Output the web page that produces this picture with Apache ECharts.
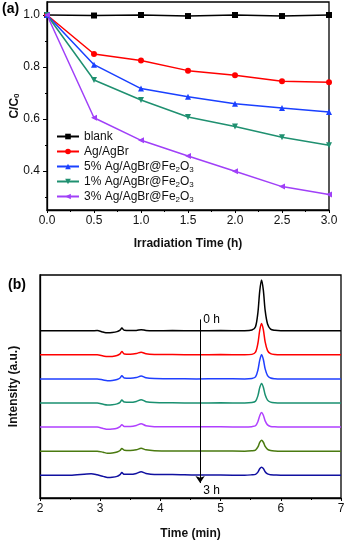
<!DOCTYPE html>
<html>
<head>
    <meta charset="utf-8">
    <title>degradation</title>
    <script src="https://cdn.jsdelivr.net/npm/echarts@6.0.0/dist/echarts.min.js"></script>
    <style>
        html, body { margin: 0; padding: 0; background: #fff; }
        #main { width: 346px; height: 542px; }
    </style>
</head>
<body>
    <div id="main"></div>
    <script>
        // (a) C/C0 vs irradiation time
        var timeA = [0, 0.5, 1.0, 1.5, 2.0, 2.5, 3.0];
        var blank = [1.0, 0.998, 1.0, 0.996, 1.0, 0.996, 1.0];
        var agAgBr = [1.0, 0.85, 0.825, 0.786, 0.768, 0.745, 0.741];
        var ag5 = [1.0, 0.809, 0.717, 0.686, 0.659, 0.642, 0.627];
        var ag1 = [1.0, 0.75, 0.673, 0.608, 0.571, 0.530, 0.499];
        var ag3 = [1.0, 0.605, 0.518, 0.458, 0.399, 0.34, 0.31];
        var namesA = ['blank', 'Ag/AgBr', '5% Ag/AgBr@Fe2O3', '1% Ag/AgBr@Fe2O3', '3% Ag/AgBr@Fe2O3'];
        var yTicksA = [0.4, 0.6, 0.8, 1.0];
        var yMinorA = [0.3, 0.5, 0.7, 0.9];

        // (b) chromatograms, 0 h (top) to 3 h (bottom)
        var timeB = [2.0, 2.5, 2.85, 2.95, 3.05, 3.12, 3.2, 3.28, 3.33, 3.36, 3.40, 3.5, 3.6, 3.68, 3.76, 3.9,
                     4.2, 4.6, 5.0, 5.4, 5.52, 5.58, 5.62, 5.65, 5.68, 5.71, 5.74, 5.78, 5.83, 5.9, 6.0, 6.5, 7.0];
        var tr0 = [0, 0, 0, 0.1, -0.6, -0.9, -0.8, -0.4, 0.3, 1.2, 0.2, 0.1, 0.1, 0.5, 0.1, 0, 0.1, 0, 0.1, 0, 0.3, 1.8, 8.2, 17.8, 22.8, 18.2, 9.1, 3.0, 0.7, 0.2, 0, 0, 0];
        var tr1 = [0, 0, 0, 0, -0.5, -0.8, -0.7, -0.3, 0.4, 1.5, 0.4, 0.3, 0.6, 1.2, 0.5, 0.2, 0.1, 0, 0.1, 0, 0.2, 1.2, 5.2, 11.0, 14.1, 11.3, 5.8, 1.9, 0.5, 0.1, 0, 0, 0];
        var tr2 = [0, 0, 0, 0, -0.5, -0.8, -0.7, -0.3, 0.4, 1.4, 0.4, 0.3, 0.6, 1.3, 0.5, 0.2, 0.1, 0, 0.1, 0, 0.2, 0.9, 4.0, 8.4, 10.8, 8.7, 4.5, 1.5, 0.4, 0.1, 0, 0, 0];
        var tr3 = [0, 0, 0, 0, -0.6, -0.9, -0.8, -0.4, 0.3, 1.3, 0.4, 0.3, 0.7, 1.5, 0.6, 0.2, 0.1, 0, 0.1, 0, 0.2, 0.8, 3.3, 6.9, 8.8, 7.1, 3.7, 1.3, 0.4, 0.1, 0, 0, 0];
        var tr4 = [0, 0, 0, 0, -0.6, -1.0, -0.9, -0.5, 0.2, 1.1, 0.3, 0.3, 0.7, 1.5, 0.6, 0.2, 0.1, 0.1, 0.1, 0, 0.2, 0.6, 2.5, 5.1, 6.5, 5.3, 2.8, 1.0, 0.3, 0.1, 0, 0, 0];
        var tr5 = [0, 0, 0, 0, -0.5, -0.9, -0.8, -0.4, 0.3, 1.2, 0.4, 0.3, 0.6, 1.3, 0.6, 0.2, 0.1, 0.1, 0.1, 0, 0.2, 0.5, 1.9, 3.9, 4.9, 4.0, 2.1, 0.8, 0.3, 0.1, 0, 0, 0];
        var tr6 = [0, 0, 0.7, 0.2, -0.5, -1.0, -0.9, -0.5, 0.3, 1.2, 0.4, 0.4, 0.8, 1.6, 0.8, 0.3, 0.3, 0.1, 0.1, 0, 0.2, 0.4, 1.4, 2.9, 3.6, 3.0, 1.6, 0.6, 0.2, 0.1, 0, 0, 0];
        var traces = [tr0, tr1, tr2, tr3, tr4, tr5, tr6];
        var offsets = [75, 64.2, 53.4, 42.6, 31.8, 21, 10.2];
        var arrowTime = 4.66;
        var arrowFrom = 80.1;
        var arrowTo = 6.7;

        var font = "'Liberation Sans', Arial, sans-serif";
        var colorsA = ['#000000', '#ff0000', '#1a40ff', '#1f9070', '#a040f8'];
        var symbolsA = ['rect', 'circle', 'triangle', 'triangle', 'triangle'];
        var rotateA = [0, 0, 0, 180, 90];
        var colorsB = ['#000000', '#ff0000', '#1f3fff', '#1a9070', '#b040ff', '#4a7a10', '#1010a0'];
        var dataA = [blank, agAgBr, ag5, ag1, ag3];

        function pairs(xs, ys, off) {
            return xs.map(function (x, i) { return [x, ys[i] + (off || 0)]; });
        }
        function fmtName(n) {
            return n.replace('Fe2O3', 'Fe{s|2}O{s|3}');
        }

        var series = [];
        dataA.forEach(function (d, i) {
            series.push({
                name: namesA[i],
                type: 'line',
                xAxisIndex: 0,
                yAxisIndex: 0,
                data: pairs(timeA, d),
                symbol: symbolsA[i],
                symbolRotate: rotateA[i],
                symbolSize: 6,
                lineStyle: { width: 1.5, color: colorsA[i] },
                itemStyle: { color: colorsA[i] }
            });
        });
        traces.forEach(function (d, i) {
            var s = {
                name: 'trace' + i,
                type: 'line',
                xAxisIndex: 1,
                yAxisIndex: 2,
                data: pairs(timeB, d, offsets[i]),
                showSymbol: false,
                smooth: 0.3,
                lineStyle: { width: 1.5, color: colorsB[i] },
                itemStyle: { color: colorsB[i] }
            };
            if (i === 0) {
                s.markLine = {
                    silent: true,
                    symbol: ['none', 'arrow'],
                    symbolSize: 7,
                    label: { show: false },
                    lineStyle: { color: '#000', width: 1, type: 'solid' },
                    data: [[{ coord: [arrowTime, arrowFrom] }, { coord: [arrowTime, arrowTo] }]]
                };
                s.markPoint = {
                    silent: true,
                    symbol: 'circle',
                    symbolSize: 0,
                    itemStyle: { color: 'transparent' },
                    label: { show: true, position: 'right', distance: 3, color: '#000', fontSize: 12, fontFamily: font },
                    data: [
                        { coord: [arrowTime, arrowFrom], label: { formatter: '0 h' } },
                        { coord: [arrowTime, arrowTo - 3.5], label: { formatter: '3 h' } }
                    ]
                };
            }
            series.push(s);
        });

        var axisLine = { show: true, onZero: false, lineStyle: { color: '#000', width: 1.3 } };
        var labelStyle = { color: '#111', fontSize: 12, fontFamily: font };
        var tickStyle = { color: '#000', width: 1 };

        var option = {
            animation: false,
            backgroundColor: '#fff',
            textStyle: { fontFamily: font },
            title: [
                { text: '(a)', left: 2, top: 2, padding: 0, textStyle: { fontSize: 14, fontWeight: 'bold', color: '#000', fontFamily: font } },
                { text: '(b)', left: 8, top: 278, padding: 0, textStyle: { fontSize: 14, fontWeight: 'bold', color: '#000', fontFamily: font } }
            ],
            legend: {
                data: namesA,
                orient: 'vertical',
                left: 56,
                top: 129,
                itemWidth: 22,
                itemHeight: 7,
                itemGap: 0,
                padding: 0,
                formatter: fmtName,
                textStyle: {
                    color: '#111', fontSize: 12, fontFamily: font, lineHeight: 15,
                    rich: { s: { fontSize: 8, lineHeight: 8, verticalAlign: 'bottom', fontFamily: font, color: '#111' } }
                }
            },
            grid: [
                { left: 47, right: 17, top: 2, bottom: 332, show: true, borderColor: '#000', borderWidth: 1.3, outerBoundsMode: 'none', containLabel: false },
                { left: 40, right: 5, top: 275, bottom: 44, show: true, borderColor: '#000', borderWidth: 1.3, outerBoundsMode: 'none', containLabel: false }
            ],
            xAxis: [
                {
                    gridIndex: 0, type: 'value', min: 0, max: 3, interval: 0.5,
                    name: 'Irradiation Time (h)', nameLocation: 'middle', nameGap: 28, nameMoveOverlap: false,
                    nameTextStyle: { fontSize: 12, fontWeight: 'bold', color: '#111', fontFamily: font },
                    axisLine: axisLine,
                    axisTick: { inside: false, length: 3, lineStyle: tickStyle },
                    minorTick: { show: true, splitNumber: 2, length: 2, lineStyle: tickStyle },
                    axisLabel: Object.assign({ margin: 5, formatter: function (v) { return v.toFixed(1); } }, labelStyle),
                    splitLine: { show: false }
                },
                {
                    gridIndex: 1, type: 'value', min: 2, max: 7, interval: 1,
                    name: 'Time (min)', nameLocation: 'middle', nameGap: 30, nameMoveOverlap: false,
                    nameTextStyle: { fontSize: 12, fontWeight: 'bold', color: '#111', fontFamily: font },
                    axisLine: axisLine,
                    axisTick: { inside: false, length: 3, lineStyle: tickStyle },
                    minorTick: { show: true, splitNumber: 2, length: 2, lineStyle: tickStyle },
                    axisLabel: Object.assign({ margin: 5 }, labelStyle),
                    splitLine: { show: false }
                }
            ],
            yAxis: [
                {
                    gridIndex: 0, type: 'value', min: 0.25, max: 1.05, position: 'left',
                    name: 'C/C{s|0}', nameLocation: 'middle', nameGap: 26, nameMoveOverlap: false,
                    nameTextStyle: {
                        fontSize: 12, fontWeight: 'bold', color: '#111', fontFamily: font,
                        rich: { s: { fontSize: 8, fontWeight: 'bold', lineHeight: 8, verticalAlign: 'bottom', color: '#111', fontFamily: font } }
                    },
                    axisLine: axisLine,
                    axisTick: { inside: false, length: 4, customValues: yTicksA, lineStyle: tickStyle },
                    axisLabel: Object.assign({ margin: 7, customValues: yTicksA, formatter: function (v) { return v.toFixed(1); } }, labelStyle),
                    splitLine: { show: false }
                },
                {
                    gridIndex: 0, type: 'value', min: 0.25, max: 1.05, position: 'left',
                    axisLine: { show: false },
                    axisTick: { inside: false, length: 2, customValues: yMinorA, lineStyle: tickStyle },
                    axisLabel: { show: false },
                    splitLine: { show: false }
                },
                {
                    gridIndex: 1, type: 'value', min: 0, max: 100,
                    name: 'Intensity (a.u.)', nameLocation: 'middle', nameGap: 20,
                    nameTextStyle: { fontSize: 12, fontWeight: 'bold', color: '#111', fontFamily: font },
                    axisLine: axisLine,
                    axisTick: { show: false },
                    axisLabel: { show: false },
                    splitLine: { show: false }
                }
            ],
            series: series
        };

        var myChart = echarts.init(document.getElementById('main'));
        myChart.setOption(option);
    </script>
</body>
</html>
